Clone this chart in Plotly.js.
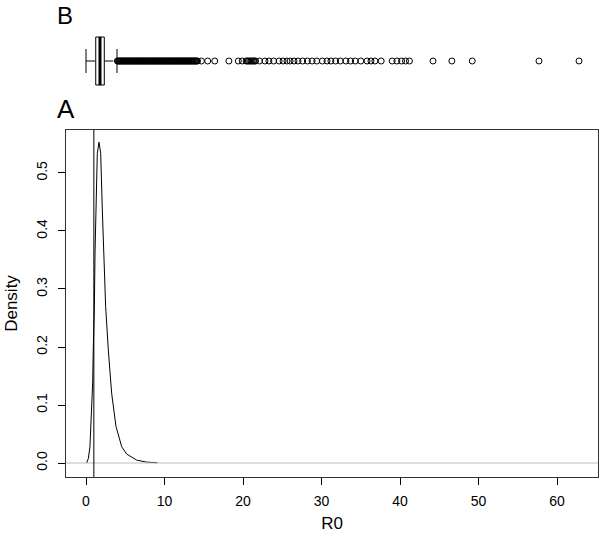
<!DOCTYPE html>
<html>
<head>
<meta charset="utf-8">
<script src="https://cdn.plot.ly/plotly-3.0.1.min.js"></script>
<style>
    html, body { margin: 0; padding: 0; background: #fff; }
</style>
</head>
<body>
<div id="myPlot" style="width:600px;height:538px;"></div>
<script>
// density of R0 (panel A)
const densityX = [0.08, 0.3, 0.5, 0.72, 0.85, 0.93, 1.06, 1.15, 1.27, 1.44, 1.66, 1.87, 2.08, 2.33, 2.5, 2.84, 3.27, 3.82, 4.55, 5.18, 6.45, 7.73, 9.1];
const densityY = [0.0, 0.008, 0.028, 0.09, 0.138, 0.2, 0.264, 0.362, 0.466, 0.534, 0.553, 0.534, 0.436, 0.35, 0.27, 0.195, 0.12, 0.063, 0.028, 0.0155, 0.005, 0.0015, 0.0005];

// boxplot stats (panel B)
const boxStats = { lower: 0.0, q1: 1.24, median: 1.78, q3: 2.33, upper: 3.95 };

// outliers (the run 4-14 is a solid band of overlapping points)
const outliers = [
    4.0, 4.1, 4.2, 4.3, 4.4, 4.5, 4.6, 4.7, 4.8, 4.9, 5.0, 5.1, 5.2, 5.3, 5.4, 5.5, 5.6, 5.7, 5.8, 5.9,
    6.0, 6.1, 6.2, 6.3, 6.4, 6.5, 6.6, 6.7, 6.8, 6.9, 7.0, 7.1, 7.2, 7.3, 7.4, 7.5, 7.6, 7.7, 7.8, 7.9,
    8.0, 8.1, 8.2, 8.3, 8.4, 8.5, 8.6, 8.7, 8.8, 8.9, 9.0, 9.1, 9.2, 9.3, 9.4, 9.5, 9.6, 9.7, 9.8, 9.9,
    10.0, 10.1, 10.2, 10.3, 10.4, 10.5, 10.6, 10.7, 10.8, 10.9, 11.0, 11.1, 11.2, 11.3, 11.4, 11.5,
    11.6, 11.7, 11.8, 11.9, 12.0, 12.1, 12.2, 12.3, 12.4, 12.5, 12.6, 12.7, 12.8, 12.9, 13.0, 13.1,
    13.2, 13.3, 13.4, 13.5, 13.6, 13.7, 13.8, 13.9, 14.0, 14.1, 14.2,
    14.7, 15.5, 16.4, 18.2, 19.4, 19.9, 20.4, 20.55, 20.7, 20.85, 21.0, 21.15, 21.3, 21.45, 21.6,
    22.1, 22.8, 23.3, 23.9, 24.6, 25.1, 25.6, 26.0, 26.5, 27.0, 27.6, 28.2, 28.8, 29.4,
    30.1, 30.7, 31.2, 31.8, 32.4, 33.1, 33.7, 34.3, 35.0, 35.8, 36.3, 36.8, 37.6,
    39.0, 39.6, 40.2, 40.7, 41.2, 44.2, 46.6, 49.2, 57.7, 62.8
];

const thresholdR0 = 1;

document.addEventListener('DOMContentLoaded', function () {
    const fontFamily = 'Liberation Sans, Arial, sans-serif';
    const xRange = [-2.548, 65.22];

    const densityTrace = {
        x: densityX,
        y: densityY,
        type: 'scatter',
        mode: 'lines',
        line: { color: 'black', width: 1 },
        xaxis: 'x',
        yaxis: 'y',
        hoverinfo: 'skip'
    };

    const outlierTrace = {
        x: outliers,
        y: outliers.map(() => 0),
        type: 'scatter',
        mode: 'markers',
        marker: { symbol: 'circle-open', size: 6, color: 'black', line: { width: 1 } },
        xaxis: 'x2',
        yaxis: 'y2',
        hoverinfo: 'skip'
    };

    const b = boxStats;
    const boxShapes = [
        // whiskers
        { type: 'line', xref: 'x2', yref: 'y2', x0: b.lower, x1: b.q1, y0: 0, y1: 0, line: { color: 'black', width: 1, dash: 'dash' } },
        { type: 'line', xref: 'x2', yref: 'y2', x0: b.q3, x1: b.upper, y0: 0, y1: 0, line: { color: 'black', width: 1, dash: 'dash' } },
        // staples
        { type: 'line', xref: 'x2', yref: 'y2', x0: b.lower, x1: b.lower, y0: -0.2, y1: 0.2, line: { color: 'black', width: 1 } },
        { type: 'line', xref: 'x2', yref: 'y2', x0: b.upper, x1: b.upper, y0: -0.2, y1: 0.2, line: { color: 'black', width: 1 } },
        // box + median
        { type: 'rect', xref: 'x2', yref: 'y2', x0: b.q1, x1: b.q3, y0: -0.4, y1: 0.4, fillcolor: 'white', line: { color: 'black', width: 1 } },
        { type: 'line', xref: 'x2', yref: 'y2', x0: b.median, x1: b.median, y0: -0.4, y1: 0.4, line: { color: 'black', width: 3 } }
    ];

    const refShapes = [
        { type: 'line', xref: 'x domain', yref: 'y', x0: 0, x1: 1, y0: 0, y1: 0, line: { color: '#bebebe', width: 1 } },
        { type: 'line', xref: 'x', yref: 'y domain', x0: thresholdR0, x1: thresholdR0, y0: 0, y1: 1, line: { color: 'black', width: 1 } }
    ];

    const layout = {
        width: 600,
        height: 538,
        margin: { l: 66, r: 2, t: 0, b: 61 },
        paper_bgcolor: 'white',
        plot_bgcolor: 'white',
        showlegend: false,
        font: { family: fontFamily, size: 14, color: 'black' },
        xaxis: {
            range: xRange,
            domain: [0, 1],
            anchor: 'y',
            tick0: 0,
            dtick: 10,
            ticks: 'outside',
            ticklen: 7,
            tickcolor: 'black',
            ticklabelstandoff: 4,
            showline: true,
            mirror: true,
            linecolor: '#333',
            showgrid: false,
            zeroline: false,
            title: { text: 'R0', standoff: 9 }
        },
        yaxis: {
            range: [-0.0241, 0.5741],
            domain: [0, 0.7275],
            anchor: 'x',
            tick0: 0,
            dtick: 0.1,
            tickformat: '.1f',
            tickangle: -90,
            ticks: 'outside',
            ticklen: 7,
            tickcolor: 'black',
            ticklabelstandoff: 5,
            showline: true,
            mirror: true,
            linecolor: '#333',
            showgrid: false,
            zeroline: false,
            title: { text: 'Density', standoff: 12 }
        },
        xaxis2: {
            range: xRange,
            anchor: 'y2',
            visible: false
        },
        yaxis2: {
            range: [-1.15, 1.017],
            domain: [0.7275, 1],
            anchor: 'x2',
            visible: false
        },
        shapes: refShapes.concat(boxShapes),
        annotations: [
            { text: 'B', xref: 'paper', yref: 'paper', x: -0.02, y: 1, xanchor: 'left', yanchor: 'top', showarrow: false, font: { size: 24 } },
            { text: 'A', xref: 'paper', yref: 'paper', x: -0.02, y: 0.807, xanchor: 'left', yanchor: 'top', showarrow: false, font: { size: 26 } }
        ]
    };

    Plotly.newPlot('myPlot', [densityTrace, outlierTrace], layout, { staticPlot: true });
});
</script>
</body>
</html>
